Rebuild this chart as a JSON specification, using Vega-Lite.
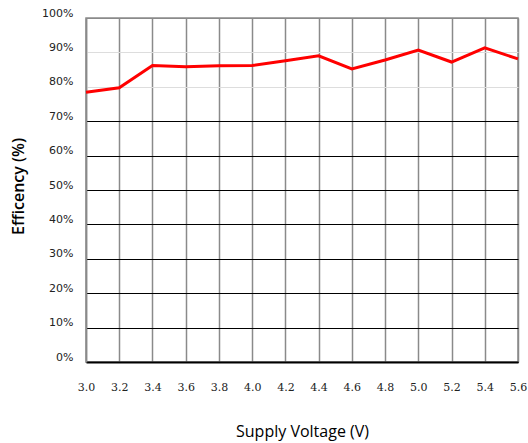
{
  "$schema": "https://vega.github.io/schema/vega-lite/v6.json",
  "autosize": {"type": "none"},
  "padding": {"left": 86, "top": 18, "right": 10, "bottom": 81},
  "width": 432,
  "height": 344,
  "background": "white",
  "config": {"view": {"stroke": "#8a8a8a", "strokeWidth": 1.5}},
  "data": {"values": [
    {"v": 3.0, "eff": 78.4},
    {"v": 3.2, "eff": 79.7},
    {"v": 3.4, "eff": 86.2},
    {"v": 3.6, "eff": 85.8},
    {"v": 3.8, "eff": 86.1},
    {"v": 4.0, "eff": 86.2},
    {"v": 4.2, "eff": 87.6},
    {"v": 4.4, "eff": 89.0},
    {"v": 4.6, "eff": 85.2},
    {"v": 4.8, "eff": 87.8},
    {"v": 5.0, "eff": 90.7},
    {"v": 5.2, "eff": 87.2},
    {"v": 5.4, "eff": 91.3},
    {"v": 5.6, "eff": 88.1}
  ]},
  "mark": {"type": "line", "color": "#ff0000", "strokeWidth": 3},
  "encoding": {
    "x": {
      "field": "v", "type": "quantitative",
      "scale": {"domain": [3.0, 5.6], "nice": false, "zero": false},
      "axis": {
        "values": [3.0, 3.2, 3.4, 3.6, 3.8, 4.0, 4.2, 4.4, 4.6, 4.8, 5.0, 5.2, 5.4, 5.6],
        "format": ".1f",
        "title": "Supply Voltage (V)",
        "titleFont": "Open Sans", "titleFontSize": 16, "titleFontWeight": "normal", "titleColor": "#000",
        "titleX": 216, "titleY": 69, "titleBaseline": "middle", "titleAlign": "center",
        "labelFont": "DejaVu Serif", "labelFontSize": 11, "labelColor": "#222",
        "labelPadding": 19, "tickSize": 0, "ticks": false,
        "domainColor": "#000", "domainWidth": 2,
        "grid": true, "gridColor": "#8a8a8a", "gridWidth": 1.5, "gridOpacity": 1,
        "labelFlush": false, "labelOverlap": false
      }
    },
    "y": {
      "field": "eff", "type": "quantitative",
      "scale": {"domain": [0, 100], "nice": false},
      "axis": {
        "values": [0, 10, 20, 30, 40, 50, 60, 70, 80, 90, 100],
        "labelExpr": "datum.value + '%'",
        "title": "Efficency (%)",
        "titleFont": "Open Sans", "titleFontSize": 16, "titleFontWeight": 600, "titleColor": "#000",
        "titleX": -68, "titleY": 168, "titleBaseline": "middle", "titleAlign": "center", "titleAngle": -90,
        "labelFont": "DejaVu Sans", "labelFontSize": 11, "labelColor": "#222",
        "labelPadding": 13, "labelOffset": -5, "tickSize": 0, "ticks": false,
        "domainColor": "#8a8a8a", "domainWidth": 1.5,
        "grid": true,
        "gridColor": {"condition": [
          {"test": "datum.value == 0", "value": "#000"},
          {"test": "datum.value == 100", "value": "#8a8a8a"},
          {"test": "datum.value >= 80", "value": "#dddddd"}
        ], "value": "#000"},
        "gridWidth": 1.2, "gridOpacity": 1,
        "labelFlush": false, "labelOverlap": false
      }
    }
  }
}
